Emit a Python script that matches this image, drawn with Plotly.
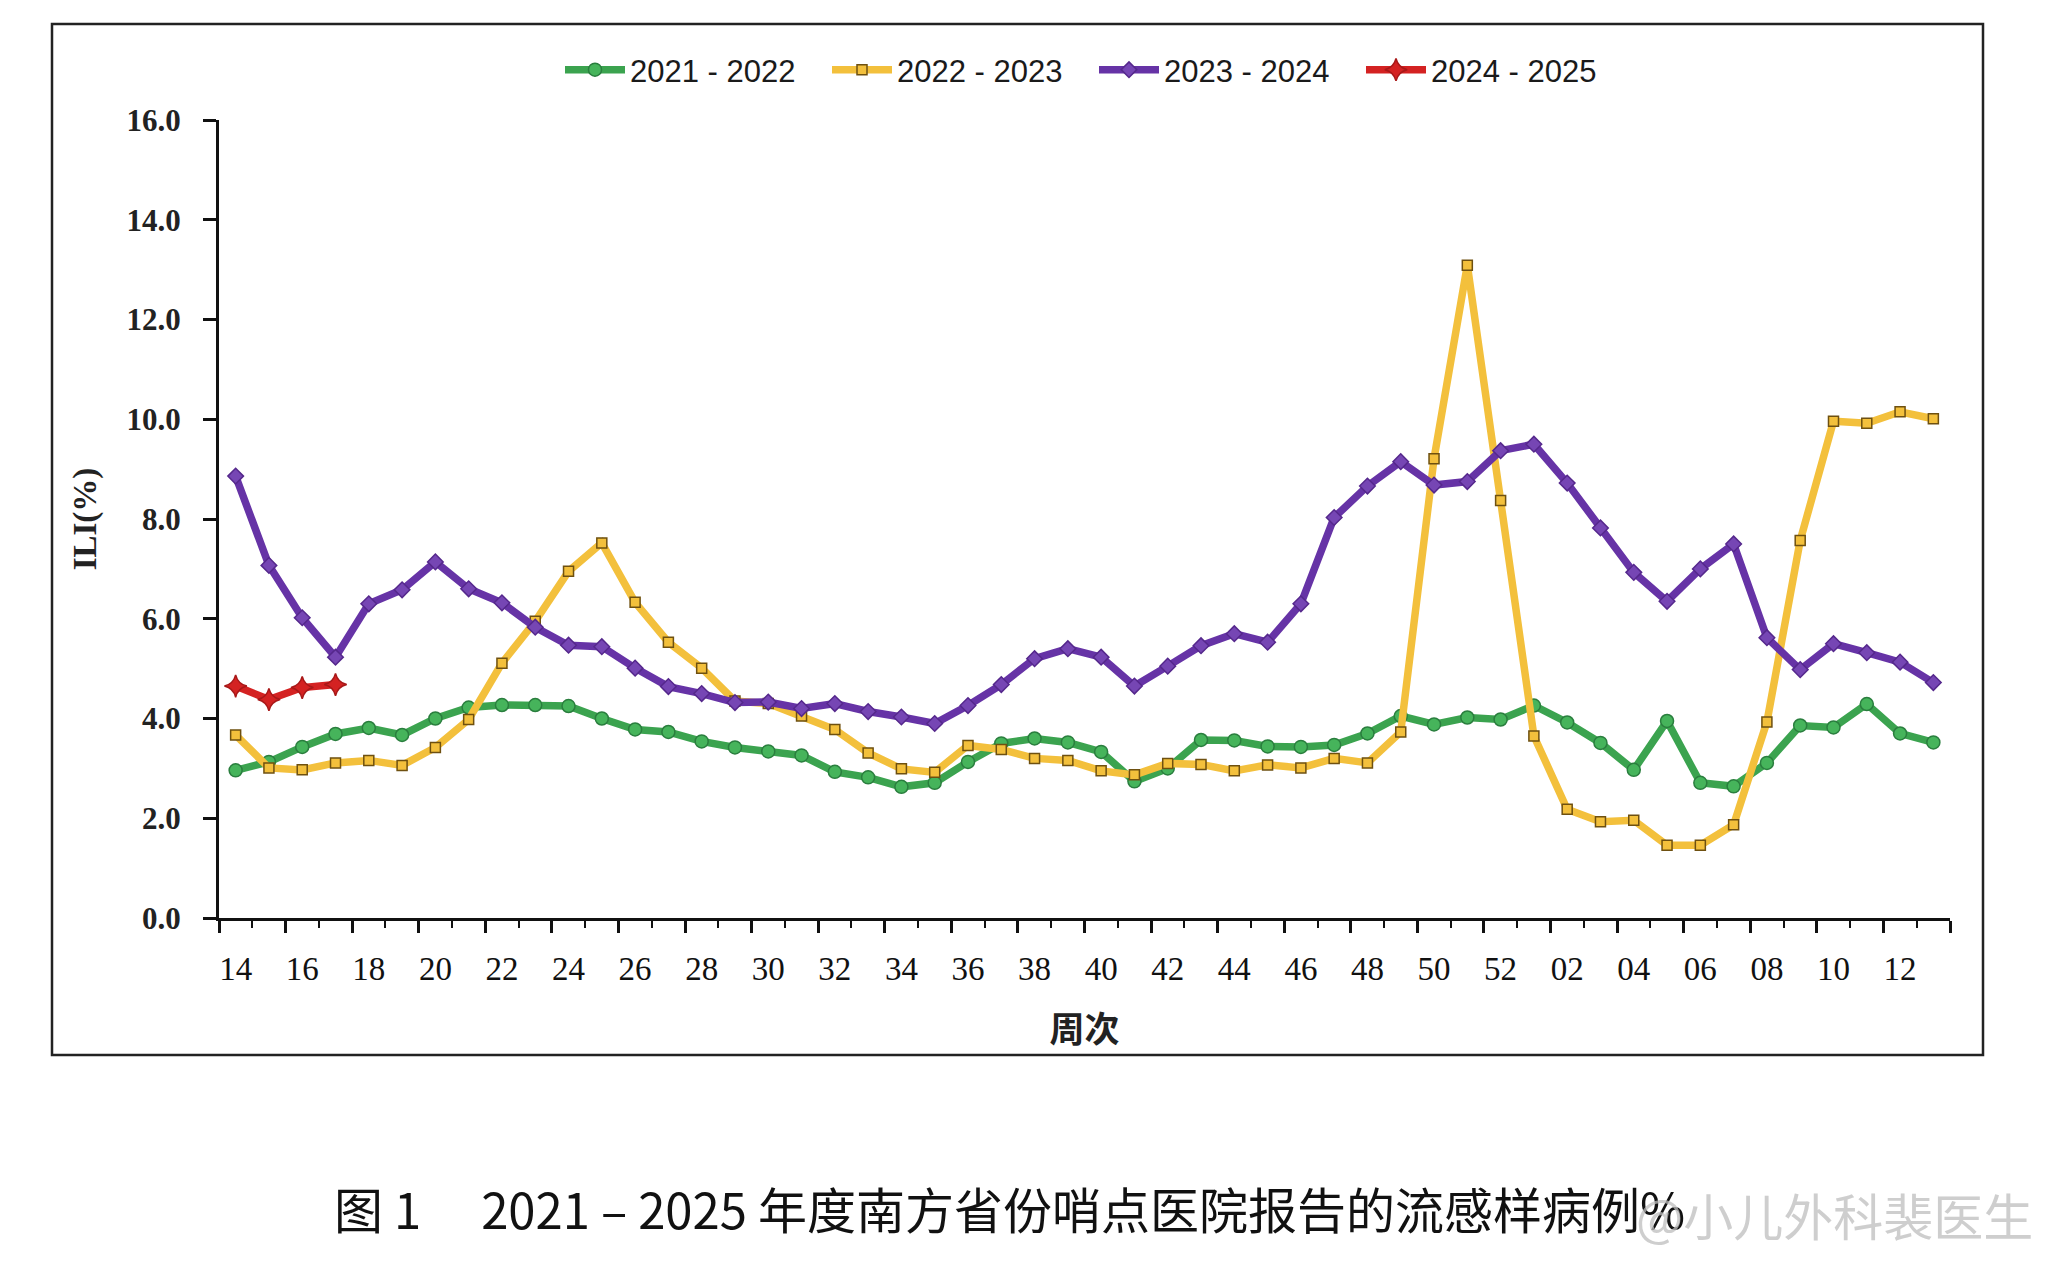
import plotly.graph_objects as go

weeks = [str(w) for w in range(14, 53)] + ["%02d" % w for w in range(1, 14)]

ili_2021_2022 = [2.96, 3.13, 3.43, 3.69, 3.81, 3.67, 4.00, 4.22, 4.27, 4.27,
                 4.25, 4.00, 3.78, 3.73, 3.54, 3.42, 3.34, 3.26, 2.93, 2.82,
                 2.63, 2.71, 3.13, 3.50, 3.60, 3.52, 3.33, 2.74, 3.00, 3.57,
                 3.56, 3.44, 3.43, 3.47, 3.70, 4.05, 3.88, 4.02, 3.98, 4.26,
                 3.92, 3.51, 2.97, 3.95, 2.71, 2.64, 3.11, 3.86, 3.82, 4.29,
                 3.70, 3.52]
ili_2022_2023 = [3.67, 3.01, 2.97, 3.11, 3.16, 3.06, 3.42, 3.98, 5.11, 5.95,
                 6.95, 7.52, 6.33, 5.53, 5.01, 4.35, 4.30, 4.05, 3.78, 3.31,
                 2.99, 2.92, 3.46, 3.38, 3.20, 3.16, 2.95, 2.87, 3.10, 3.08,
                 2.95, 3.07, 3.01, 3.20, 3.11, 3.73, 9.21, 13.09, 8.37, 3.65,
                 2.18, 1.93, 1.96, 1.46, 1.46, 1.87, 3.93, 7.57, 9.96, 9.92,
                 10.15, 10.01]
ili_2023_2024 = [8.86, 7.07, 6.02, 5.23, 6.30, 6.58, 7.14, 6.60, 6.32, 5.83,
                 5.47, 5.44, 5.01, 4.64, 4.50, 4.32, 4.33, 4.20, 4.30, 4.14,
                 4.03, 3.90, 4.26, 4.68, 5.20, 5.40, 5.23, 4.65, 5.05, 5.46,
                 5.70, 5.53, 6.30, 8.03, 8.66, 9.15, 8.68, 8.75, 9.37, 9.50,
                 8.72, 7.82, 6.93, 6.35, 7.00, 7.50, 5.62, 4.98, 5.50, 5.32,
                 5.13, 4.72]
ili_2024_2025 = [4.65, 4.38, 4.62, 4.68]

series_names = ["2021 - 2022", "2022 - 2023", "2023 - 2024", "2024 - 2025"]
y_ticks = [0, 2, 4, 6, 8, 10, 12, 14, 16]

idx = list(range(len(weeks)))

# page geometry (browser body has an 8px margin)
OFF = 8
PL, PR, PT, PB = 219, 1950, 120, 918  # plot area in page pixels
PW, PH = PR - PL, PB - PT


def px(x):
    return (x - PL) / PW


def py(y):
    return (PB - y) / PH


fig = go.Figure()

styles = [
    dict(color="#3ba34f", symbol="circle", size=13, mcolor="#46b45b", mline="#2a7e3e"),
    dict(color="#f3c03c", symbol="square", size=10, mcolor="#f3c03c", mline="#6e5010"),
    dict(color="#6633a6", symbol="diamond", size=12, mcolor="#7646b4", mline="#55288c"),
    dict(color="#d42222", symbol="star-diamond", size=16, mcolor="#d42222", mline="#a81818"),
]
data = [ili_2021_2022, ili_2022_2023, ili_2023_2024, ili_2024_2025]

for name, vals, st in zip(series_names, data, styles):
    fig.add_trace(go.Scatter(
        x=idx[:len(vals)], y=vals, name=name, mode="lines+markers",
        line=dict(color=st["color"], width=7.5),
        marker=dict(symbol=st["symbol"], size=st["size"], color=st["mcolor"],
                    line=dict(color=st["mline"], width=1.5)),
    ))

n = len(weeks)
major_bounds = [i - 0.5 for i in range(0, n + 1, 2)]
minor_bounds = [i - 0.5 for i in range(1, n + 1, 2)]

fig.update_layout(
    width=2048, height=1268,
    paper_bgcolor="white", plot_bgcolor="white",
    margin=dict(l=PL - OFF, r=2048 - PR + OFF, t=PT - OFF, b=1268 - PB + OFF),
    showlegend=True,
    legend=dict(orientation="h", x=px(560), xanchor="left", y=py(70), yanchor="middle",
                font=dict(family="Liberation Sans Narrow, Liberation Sans, Arial", size=31, color="#1a1a1a"),
                entrywidth=192, entrywidthmode="pixels", itemwidth=60,
                bgcolor="rgba(0,0,0,0)"),
    xaxis=dict(
        range=[-0.5, n - 0.5], showgrid=False, zeroline=False, automargin=False,
        showline=True, linecolor="#111", linewidth=3,
        tickmode="array", tickvals=major_bounds, ticks="outside", ticklen=12,
        tickwidth=3, tickcolor="#111", showticklabels=False,
        minor=dict(tickvals=minor_bounds, ticks="outside", ticklen=7, tickwidth=2, tickcolor="#111"),
    ),
    xaxis2=dict(
        overlaying="x", anchor="y", side="bottom", range=[-0.5, n - 0.5], automargin=False,
        showgrid=False, zeroline=False, showline=False,
        tickmode="array", tickvals=idx[::2], ticktext=weeks[::2], ticks="",
        tickfont=dict(family="Liberation Serif, Times New Roman, serif", size=33, color="#111"),
        ticklabelstandoff=28,
        title=dict(text="周次", font=dict(family="Noto Sans CJK SC", size=35, color="#222", weight="bold"), standoff=31),
    ),
    yaxis=dict(
        range=[0, 16], showgrid=False, zeroline=False, automargin=False,
        showline=True, linecolor="#111", linewidth=3,
        tickmode="array", tickvals=y_ticks, ticktext=["%.1f" % v for v in y_ticks],
        ticks="outside", ticklen=13, tickwidth=3, tickcolor="#111",
        tickfont=dict(family="Liberation Serif, Times New Roman, serif", size=31, color="#222", weight="bold"),
        ticklabelstandoff=16,
        title=dict(text="ILI(%)", font=dict(family="Liberation Serif, Times New Roman, serif", size=33, color="#222", weight="bold"), standoff=20),
    ),
)

# invisible trace to activate xaxis2
fig.add_trace(go.Scatter(x=[0], y=[0], xaxis="x2", mode="markers",
                         marker=dict(opacity=0), showlegend=False, hoverinfo="skip"))

# outer frame
fig.add_shape(type="rect", xref="paper", yref="paper",
              x0=px(52), x1=px(1983), y0=py(1055), y1=py(24),
              line=dict(color="#222", width=2.5), fillcolor="rgba(0,0,0,0)", layer="below")

# caption
fig.add_annotation(xref="paper", yref="paper", x=px(332), y=py(1207),
                   xanchor="left", yanchor="middle", showarrow=False,
                   text="图 1\u3000 2021 – 2025 年度南方省份哨点医院报告的流感样病例%",
                   font=dict(family="Noto Sans CJK SC", size=49, color="#111"))
# watermark (semi-transparent, lies over the end of the caption as in the source image)
fig.add_annotation(xref="paper", yref="paper", x=px(2035), y=py(1214),
                   xanchor="right", yanchor="middle", showarrow=False,
                   text="@小儿外科裴医生",
                   font=dict(family="Noto Sans CJK SC", size=50, color="rgba(190,190,190,0.75)"))

fig.write_html("out.html")
